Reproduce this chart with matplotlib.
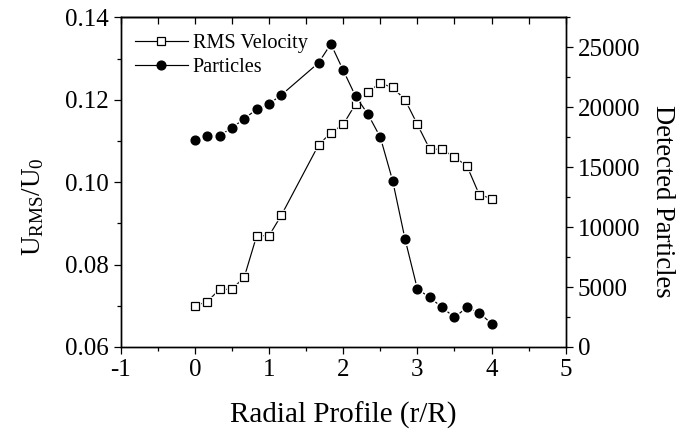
import matplotlib
matplotlib.use('Agg')
import matplotlib.pyplot as plt
from matplotlib.lines import Line2D
from matplotlib.ticker import MultipleLocator

# data
radius = [0, 1/6, 2/6, 3/6, 4/6, 5/6, 1.0, 7/6, 10/6, 11/6, 2.0, 13/6,
          14/6, 15/6, 16/6, 17/6, 3.0, 19/6, 20/6, 21/6, 22/6, 23/6, 4.0]
rms_velocity = [0.070, 0.071, 0.074, 0.074, 0.077, 0.087, 0.087, 0.092,
                0.109, 0.112, 0.114, 0.119, 0.122, 0.124, 0.123, 0.120,
                0.114, 0.108, 0.108, 0.106, 0.104, 0.097, 0.096]
particles = [17300, 17640, 17640, 18280, 19050, 19830, 20280, 21030,
             23700, 25280, 23080, 20920, 19420, 17500, 13860, 9000,
             4830, 4140, 3300, 2470, 3300, 2860, 1940]

plt.rcParams['font.family'] = 'Liberation Serif'
plt.rcParams['mathtext.fontset'] = 'custom'
plt.rcParams['mathtext.rm'] = 'Liberation Serif'
plt.rcParams['mathtext.it'] = 'Liberation Serif:italic'
plt.rcParams['axes.unicode_minus'] = False

fig = plt.figure(figsize=(6.8, 4.34), dpi=100)
ax = fig.add_axes([0.1775, 0.2005, 0.6545, 0.7595])
ax2 = ax.twinx()

lw = 0.85
# RMS velocity: line, white halo for the gap, open squares
ax.plot(radius, rms_velocity, color='black', lw=lw, zorder=1)
ax.plot(radius, rms_velocity, ls='none', marker='s', ms=7.5, mfc='white', mec='white', zorder=2)
ax.plot(radius, rms_velocity, ls='none', marker='s', ms=5.2, mfc='white', mec='black', mew=0.9, zorder=3)

# particles on the right axis
ax2.plot(radius, particles, color='black', lw=lw, zorder=1)
ax2.plot(radius, particles, ls='none', marker='o', ms=8.5, mfc='white', mec='white', zorder=2)
ax2.plot(radius, particles, ls='none', marker='o', ms=6.3, mfc='black', mec='black', zorder=3)

ax.set_xlim(-1, 5)
ax.set_ylim(0.06, 0.14)
ax2.set_ylim(0, 27500)

ax.xaxis.set_major_locator(MultipleLocator(1))
ax.xaxis.set_minor_locator(MultipleLocator(0.5))
ax.yaxis.set_major_locator(MultipleLocator(0.02))
ax.yaxis.set_minor_locator(MultipleLocator(0.01))
ax.yaxis.set_major_formatter(matplotlib.ticker.FormatStrFormatter('%.2f'))
ax2.yaxis.set_major_locator(MultipleLocator(5000))
ax2.yaxis.set_minor_locator(MultipleLocator(2500))

ax.tick_params(which='both', direction='out', labelsize=18, width=0.9, top=False, right=False)
ax.tick_params(which='major', length=5, pad=3.5)
ax.tick_params(which='minor', length=3)
ax2.tick_params(which='both', direction='out', labelsize=18, width=0.9)
ax2.tick_params(which='major', length=5, pad=3.5)
ax2.tick_params(which='minor', length=3)

# inward ticks on the top edge
top = ax.secondary_xaxis('top')
top.xaxis.set_major_locator(MultipleLocator(0.5))
top.tick_params(direction='in', length=5, width=0.9, labeltop=False)

for a in (ax, ax2):
    for s in a.spines.values():
        s.set_linewidth(1.0)
top.spines['top'].set_linewidth(1.0)

ax.set_xlabel('Radial Profile (r/R)', fontsize=21)
ax.set_ylabel(r'U$_{\mathrm{RMS}}$/U$_{\mathrm{0}}$', fontsize=19.5)
ax2.set_ylabel('Detected Particles', fontsize=19.2, rotation=270)
ax.xaxis.set_label_coords(0.5, -0.165)
ax.yaxis.set_label_coords(-0.168, 0.427)
ax2.yaxis.set_label_coords(1.217, 0.442)
ax2.yaxis.label.set_va('center')

handles = [
    Line2D([], [], color='black', lw=lw, marker='s', ms=5.2, mfc='white', mec='black', mew=0.9),
    Line2D([], [], color='black', lw=lw, marker='o', ms=6.3, mfc='black', mec='black'),
]
ax2.legend(handles, ['RMS Velocity', 'Particles'], loc='upper left', frameon=False,
           fontsize=14.6, handlelength=2.6, handletextpad=0.25, labelspacing=0.2,
           borderaxespad=0.3, bbox_to_anchor=(0.0, 0.992))

fig.savefig('out.png', dpi=100)
